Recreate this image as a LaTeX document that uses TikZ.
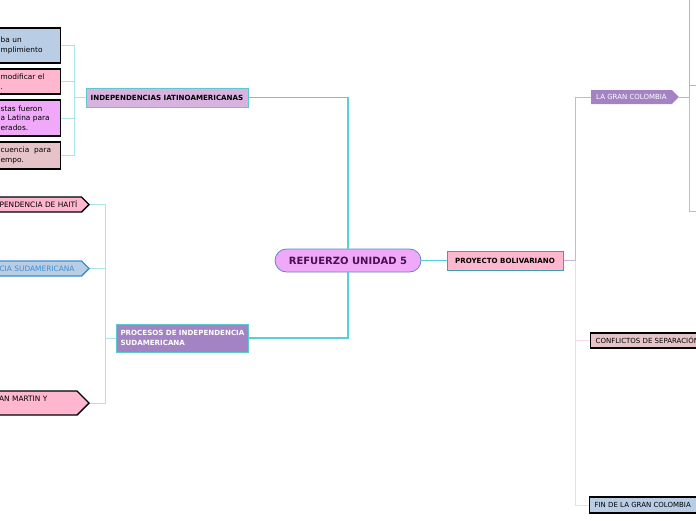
\documentclass[tikz,border=0pt]{standalone}
\usepackage{fontspec}
\setmainfont{DejaVu Sans}
\usetikzlibrary{shapes.symbols, positioning}

\definecolor{boxblue}{HTML}{B9CDE5}
\definecolor{boxpink}{HTML}{FFB6CF}
\definecolor{boxviolet}{HTML}{F0A8F8}
\definecolor{boxrose}{HTML}{E6C3C8}
\definecolor{boxlilac}{HTML}{D9B3E0}
\definecolor{boxpurple}{HTML}{A383C3}
\definecolor{rootedge}{HTML}{5A8AD0}
\definecolor{roottext}{HTML}{4A1050}
\definecolor{edgecyan}{HTML}{5CC8D0}
\definecolor{edgeteal}{HTML}{40A0A8}
\definecolor{linkcyan}{HTML}{5ACFD4}
\definecolor{linklight}{HTML}{A8E4E8}
\definecolor{linkpurple}{HTML}{C8B4DC}
\definecolor{linkpink}{HTML}{FFD3E2}
\definecolor{sudblue}{HTML}{3F8FD0}

\begin{document}
\begin{tikzpicture}[
      x=1pt, y=-1pt,
      every node/.style={inner sep=0pt, font=\fontsize{7}{9.5}\selectfont},
      topic/.style={rectangle, draw=edgecyan, line width=1pt, minimum height=19pt,
        font=\fontsize{7.1}{9.5}\selectfont\bfseries},
      leaf/.style={rectangle, draw=black, line width=1.3pt, align=left,
        inner xsep=2pt, anchor=west, text width=58pt, font=\fontsize{7.4}{9.5}\selectfont},
      tag/.style={signal, signal to=east, signal pointer angle=90, draw=black,
        line width=1.3pt, anchor=east, align=left, inner xsep=2pt, minimum height=15pt,
        font=\fontsize{7.4}{9.5}\selectfont},
      cylink/.style={draw=linklight, line width=0.8pt},
      trunk/.style={draw=linkcyan, line width=1.2pt}
    ]
      \useasboundingbox (0,0) rectangle (696,520);

      % root
      \node[rectangle, rounded corners=11.5pt, draw=rootedge, fill=boxviolet, line width=0.8pt,
        minimum width=146pt, minimum height=23pt, text=roottext,
        font=\fontsize{10}{11}\selectfont\bfseries] (root) at (348,260.5) {REFUERZO UNIDAD 5};

      % left side
      \node[topic, fill=boxlilac, minimum width=162pt] (indep) at (167,97.5) {INDEPENDENCIAS IATINOAMERICANAS};
      \node[topic, fill=boxpurple, text=white, anchor=west, inner xsep=4pt, minimum height=28pt,
        text width=124pt, align=left] (proc) at (116,338) {PROCESOS DE INDEPENDENCIA\\SUDAMERICANA};

      \node[leaf, fill=boxblue, minimum height=35pt] (b1) at (-2,45.5) {ba un\\mplimiento};
      \node[leaf, fill=boxpink, minimum height=25pt] (b2) at (-2,81.5) {modificar el\\.};
      \node[leaf, fill=boxviolet, minimum height=36pt] (b3) at (-2,118) {stas fueron\\a Latina para\\erados.};
      \node[leaf, fill=boxrose, minimum height=27pt] (b4) at (-2,155.5) {cuencia\ \ para\\empo.};

      \node[tag, fill=boxpink, text width=80pt] (haiti) at (90,204.5) {PENDENCIA DE HAITÍ};
      \node[tag, fill=boxblue, draw=sudblue, text=sudblue, text width=80pt] (sud) at (90,268.5) {CIA SUDAMERICANA};
      \node[tag, fill=boxpink, minimum height=24pt, text width=76pt, text depth=8pt] (smart) at (90,403) {AN MARTIN Y};

      % right side
      \node[topic, draw=edgeteal, fill=boxpink, minimum width=116pt] (proy) at (505,260.5) {PROYECTO BOLIVARIANO};
      \node[signal, signal to=east, signal pointer angle=90, fill=boxpurple, text=white,
        anchor=west, inner xsep=5pt, minimum height=14pt] (gran) at (591,97) {LA GRAN COLOMBIA};
      \node[rectangle, draw=black, line width=1.3pt, fill=boxrose, anchor=west, inner xsep=5pt,
        minimum height=15pt] (confl) at (590,340.5) {CONFLICTOS DE SEPARACIÓN};
      \node[rectangle, draw=black, line width=1.3pt, fill=boxblue, anchor=west, inner xsep=5pt,
        minimum height=16pt] (fin) at (589,505) {FIN DE LA GRAN COLOMBIA\ \ \ };

      % connectors
      \draw[trunk] (root.north) |- (indep.east);
      \draw[trunk] (root.south) |- (proc.east);
      \draw[draw=linkcyan, line width=0.6pt] (root.east) -- (proy.west);

      \draw[cylink] (indep.west) -- ++(-11,0) coordinate (ij);
      \foreach \b in {b1,b2,b3,b4}
        \draw[cylink] (ij) |- (\b.east);

      \draw[cylink] (proc.west) -- ++(-11,0) coordinate (pj);
      \foreach \b in {haiti,sud,smart}
        \draw[cylink] (pj) |- (\b.east);

      \draw[draw=linkpurple, line width=0.8pt] (proy.east) -- ++(12,0) coordinate (yj);
      \draw[draw=linkpurple, line width=0.8pt] (yj) |- (gran.west);
      \draw[draw=linkpink, line width=0.8pt] (yj) |- (confl.west);
      \draw[draw=linkpink, line width=0.8pt] (yj) |- (fin.west);

      \coordinate (gc0) at (700,-20);
      \coordinate (gc1) at (700,85);
      \coordinate (gc2) at (700,211);
      \draw[draw=linkpurple!80!boxpurple, line width=0.8pt] (gran.east) -- (gran.east -| 689,0) coordinate (gj);
      \draw[draw=linkpurple!80!boxpurple, line width=0.8pt] (gj) |- (gc0);
      \draw[draw=linkpurple!80!boxpurple, line width=0.8pt] (gj) |- (gc1);
      \draw[draw=linkpurple, line width=0.8pt] (gj) |- (gc2);
    \end{tikzpicture}
\end{document}
